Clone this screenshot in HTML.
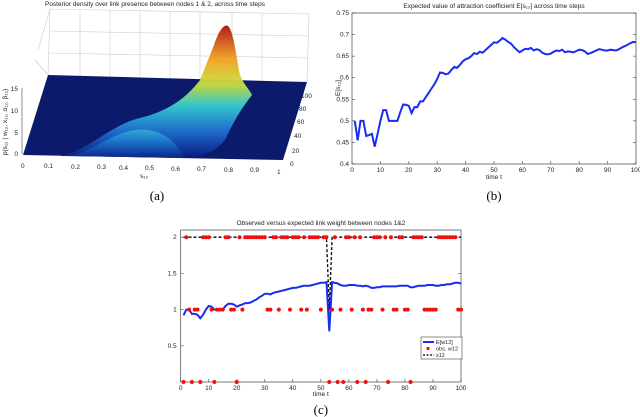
<!DOCTYPE html>
<html><head><meta charset="utf-8">
<style>
html,body{margin:0;padding:0;background:#fff;}
svg{display:block;font-family:"Liberation Sans",sans-serif;}
.t{font-size:6.5px;fill:#222;}
.cap{font-family:"Liberation Serif",serif;font-size:13px;fill:#000;}
</style></head>
<body>
<svg id="root" width="640" height="417" viewBox="0 0 640 417">
  <g id="pa">
    <text class="t" x="155" y="6" text-anchor="middle">Posterior density over link presence between nodes 1 &amp; 2, across time steps</text>
    <g stroke="#ccc" stroke-width="0.6" fill="none">
      <polyline points="48,75 50,9 309,14 307,82"/>
      <line x1="80" y1="10" x2="80" y2="76"/><line x1="110" y1="10" x2="110" y2="77"/><line x1="140" y1="11" x2="140" y2="77"/>
      <line x1="170" y1="11" x2="170" y2="78"/><line x1="200" y1="12" x2="200" y2="79"/><line x1="232" y1="12" x2="232" y2="80"/>
      <line x1="262" y1="13" x2="262" y2="81"/>
      <line x1="49" y1="31" x2="308" y2="36"/><line x1="49" y1="53" x2="308" y2="58"/>
      <line x1="48" y1="75" x2="35" y2="60"/><line x1="50" y1="9" x2="38" y2="50"/>
    </g>
    <defs>
      <linearGradient id="gb" x1="0" y1="1" x2="0" y2="0">
        <stop offset="0" stop-color="#0a1a80"/><stop offset="0.2" stop-color="#1f6fd0"/><stop offset="0.4" stop-color="#38d0d0"/>
        <stop offset="0.55" stop-color="#c8e040"/><stop offset="0.75" stop-color="#f0a020"/><stop offset="1" stop-color="#b01010"/>
      </linearGradient>
      <linearGradient id="gc" x1="0" y1="1" x2="0" y2="0">
        <stop offset="0" stop-color="#0c2a90"/><stop offset="0.6" stop-color="#2090e0"/><stop offset="1" stop-color="#40d0d0"/>
      </linearGradient>
    </defs>
    <polygon points="48,75 307,82 283,160 23,155" fill="#0b1a6a"/>
    <path d="M60,156 C90,150 110,125 140,118 C165,112 185,100 200,80 L214,45 C219,30 225,22 229,27 C234,35 236,55 240,75 C244,85 250,90 252,95 C240,110 232,125 225,140 C215,152 200,158 190,158 Z" fill="url(#gb)" opacity="0.95"/>
    <path d="M70,156 C95,150 110,134 135,130 C160,127 175,140 185,158 Z" fill="url(#gc)" opacity="0.6"/>
    <g class="t">
      <line x1="22" y1="88" x2="22" y2="154" stroke="#444" stroke-width="0.6"/>
      <text x="18" y="91" text-anchor="end">15</text><text x="18" y="113" text-anchor="end">10</text>
      <text x="18" y="135" text-anchor="end">5</text><text x="18" y="156" text-anchor="end">0</text>
      <text x="7" y="122" transform="rotate(-90 7 122)" text-anchor="middle">p(s₁₂ | w₁₂, x₁₂, α₁₂, β₁₂)</text>
      <text x="21" y="168">0</text><text x="44" y="168">0.1</text><text x="71" y="169">0.2</text><text x="97" y="169">0.3</text>
      <text x="119" y="170">0.4</text><text x="145" y="170">0.5</text><text x="171" y="171">0.6</text><text x="197" y="171">0.7</text>
      <text x="224" y="172">0.8</text><text x="250" y="172">0.9</text><text x="277" y="174">1</text>
      <text x="140" y="178">s₁₂</text>
      <text x="290" y="166">0</text><text x="292" y="153">20</text><text x="294" y="138">40</text><text x="297" y="124">60</text><text x="299" y="111">80</text><text x="301" y="98">100</text>
    </g>
    <text class="cap" x="157" y="200" text-anchor="middle">(a)</text>
  </g>
  <g id="pb"></g>
  <g id="pc"></g>
</svg>
<script>
const NS="http://www.w3.org/2000/svg";
const bTimes=[];for(let i=1;i<=100;i++)bTimes.push(i);
const bValues=[0.5,0.455,0.5,0.5,0.465,0.467,0.47,0.44,0.47,0.5,0.525,0.525,0.5,0.5,0.5,0.5,0.52,0.538,0.537,0.535,0.518,0.532,0.532,0.545,0.545,0.555,0.565,0.575,0.585,0.597,0.612,0.611,0.608,0.61,0.618,0.625,0.623,0.63,0.638,0.643,0.645,0.65,0.657,0.655,0.66,0.658,0.664,0.67,0.676,0.682,0.681,0.686,0.692,0.688,0.683,0.679,0.671,0.665,0.659,0.663,0.667,0.666,0.669,0.663,0.666,0.664,0.658,0.655,0.654,0.656,0.66,0.663,0.662,0.665,0.659,0.661,0.66,0.659,0.662,0.665,0.664,0.661,0.655,0.657,0.66,0.663,0.666,0.665,0.663,0.663,0.665,0.664,0.663,0.666,0.67,0.673,0.676,0.68,0.683,0.682];
const bYTicks=[0.4,0.45,0.5,0.55,0.6,0.65,0.7,0.75];
const bYLabels=["0.4","0.45","0.5","0.55","0.6","0.65","0.7","0.75"];
const xTicks=[0,10,20,30,40,50,60,70,80,90,100];
const cExpected=[0.92,1.0,1.0,0.94,0.94,0.93,0.88,0.93,1.0,1.05,1.04,1.0,1.0,1.0,1.0,1.05,1.08,1.08,1.07,1.04,1.06,1.07,1.09,1.09,1.1,1.12,1.14,1.17,1.19,1.22,1.22,1.21,1.23,1.24,1.25,1.26,1.27,1.28,1.29,1.3,1.3,1.31,1.32,1.33,1.33,1.33,1.34,1.35,1.36,1.37,1.37,1.38,0.7,1.38,1.37,1.36,1.34,1.33,1.33,1.34,1.34,1.34,1.33,1.33,1.32,1.33,1.32,1.3,1.3,1.31,1.31,1.32,1.32,1.32,1.32,1.32,1.32,1.33,1.33,1.33,1.33,1.31,1.31,1.32,1.33,1.33,1.33,1.34,1.34,1.34,1.33,1.33,1.34,1.34,1.35,1.35,1.36,1.37,1.37,1.36];
const cObserved=[0,2,1,0,1,1,0,2,2,2,1,0,1,1,1,2,2,1,1,0,2,1,2,2,2,2,2,2,2,2,1,1,2,2,1,2,2,2,1,2,2,2,1,2,1,2,2,2,2,1,2,2,0,1,2,0,1,0,2,2,1,2,0,2,1,0,1,1,2,2,2,1,2,0,2,1,1,2,2,1,1,0,2,2,2,2,1,1,1,1,1,2,2,2,2,2,2,2,1,1];
const cTrue=[];for(let i=1;i<=100;i++)cTrue.push(i===53?1:2);
const cYTicks=[0.5,1,1.5,2];
const cYLabels=["0.5","1","1.5","2"];

function mk(parent,tag,attrs,text){const e=document.createElementNS(NS,tag);for(const k in attrs)e.setAttribute(k,attrs[k]);if(text!==undefined)e.textContent=text;parent.appendChild(e);return e;}

(function(){
  const g=document.getElementById('pb');
  const X0=352,X1=636,Y0=164,Y1=13;
  const xs=t=>X0+(t-0)/100*(X1-X0);
  const ys=v=>Y0-(v-0.4)/(0.35)*(Y0-Y1);
  const ti=mk(g,'text',{class:'t',x:(X0+X1)/2,y:8,'text-anchor':'middle'},'Expected value of attraction coefficient E[s₁₂] across time steps');
  
  const box=mk(g,'rect',{x:X0,y:Y1,width:X1-X0,height:Y0-Y1,fill:'none',stroke:'#444','stroke-width':0.7});
  
  bYTicks.forEach((v,i)=>{const y=ys(v);
    mk(g,'line',{x1:X0,y1:y,x2:X0+3,y2:y,stroke:'#444','stroke-width':0.6});
    mk(g,'line',{x1:X1,y1:y,x2:X1-3,y2:y,stroke:'#444','stroke-width':0.6});
    const l=mk(g,'text',{class:'t',x:X0-3,y:y+2,'text-anchor':'end'},bYLabels[i]);
    });
  xTicks.forEach(t=>{const x=xs(t);
    mk(g,'line',{x1:x,y1:Y0,x2:x,y2:Y0-3,stroke:'#444','stroke-width':0.6});
    const l=mk(g,'text',{class:'t',x:x,y:Y0+8,'text-anchor':'middle'},String(t));
    });
  const xl=mk(g,'text',{class:'t',x:(X0+X1)/2,y:Y0+15,'text-anchor':'middle'},'time t');
  
  const yl=mk(g,'text',{class:'t',x:340,y:88,'text-anchor':'middle',transform:'rotate(-90 340 88)'},'E[s₁₂]');
  
  const pts=bTimes.map((t,i)=>xs(t).toFixed(1)+','+ys(bValues[i]).toFixed(1)).join(' ');
  const pl=mk(g,'polyline',{points:pts,fill:'none',stroke:'#1a2cf0','stroke-width':2});
  
  const c=mk(g,'text',{class:'cap',x:(X0+X1)/2,y:200,'text-anchor':'middle'},'(b)');
  
})();

(function(){
  const g=document.getElementById('pc');
  const X0=180.7,X1=461,Y0=382,YT=230;
  const xs=t=>X0+t/100*(X1-X0);
  const ys=v=>Y0-v*72.4;
  const ti=mk(g,'text',{class:'t',x:(X0+X1)/2,y:225,'text-anchor':'middle'},'Observed versus expected link weight between nodes 1&2');
  
  const box=mk(g,'rect',{x:X0,y:YT,width:X1-X0,height:Y0-YT,fill:'none',stroke:'#444','stroke-width':0.7});
  
  cYTicks.forEach((v,i)=>{const y=ys(v);
    mk(g,'line',{x1:X0,y1:y,x2:X0+3,y2:y,stroke:'#444','stroke-width':0.6});
    mk(g,'line',{x1:X1,y1:y,x2:X1-3,y2:y,stroke:'#444','stroke-width':0.6});
    const l=mk(g,'text',{class:'t',x:X0-4,y:y+2,'text-anchor':'end'},cYLabels[i]);
    });
  xTicks.forEach(t=>{const x=xs(t);
    mk(g,'line',{x1:x,y1:Y0,x2:x,y2:Y0-3,stroke:'#444','stroke-width':0.6});
    const l=mk(g,'text',{class:'t',x:x,y:Y0+8,'text-anchor':'middle'},String(t));
    });
  const xl=mk(g,'text',{class:'t',x:(X0+X1)/2,y:Y0+14,'text-anchor':'middle'},'time t');
  
  const tp=bTimes.map((t,i)=>xs(t).toFixed(1)+','+ys(cTrue[i]).toFixed(1)).join(' ');
  const tl=mk(g,'polyline',{points:tp,fill:'none',stroke:'#000','stroke-width':1.3,'stroke-dasharray':'3,2'});
  
  const ep=bTimes.map((t,i)=>xs(t).toFixed(1)+','+ys(cExpected[i]).toFixed(1)).join(' ');
  const el=mk(g,'polyline',{points:ep,fill:'none',stroke:'#1a2cf0','stroke-width':2});
  
  bTimes.forEach((t,i)=>{
    const d=mk(g,'circle',{cx:xs(t),cy:ys(cObserved[i]),r:2,fill:'#f01010'});
    
    
  });
  const lg=mk(g,'g',{});
  
  mk(lg,'rect',{x:421,y:337,width:41,height:22,fill:'#fff',stroke:'#444','stroke-width':0.6});
  mk(lg,'line',{x1:423,y1:342,x2:434,y2:342,stroke:'#1a2cf0','stroke-width':2});
  mk(lg,'text',{class:'t',x:436,y:344,style:'font-size:5.5px'},'E[w12]');
  mk(lg,'circle',{cx:428,cy:348.5,r:1.6,fill:'#f01010'});
  mk(lg,'text',{class:'t',x:436,y:350.5,style:'font-size:5.5px'},'obs. w12');
  mk(lg,'line',{x1:423,y1:355,x2:434,y2:355,stroke:'#000','stroke-width':1.2,'stroke-dasharray':'2,1.5'});
  mk(lg,'text',{class:'t',x:436,y:357,style:'font-size:5.5px'},'s12');
  const c=mk(g,'text',{class:'cap',x:(X0+X1)/2,y:414,'text-anchor':'middle'},'(c)');
  
})();
</script>
</body></html>
